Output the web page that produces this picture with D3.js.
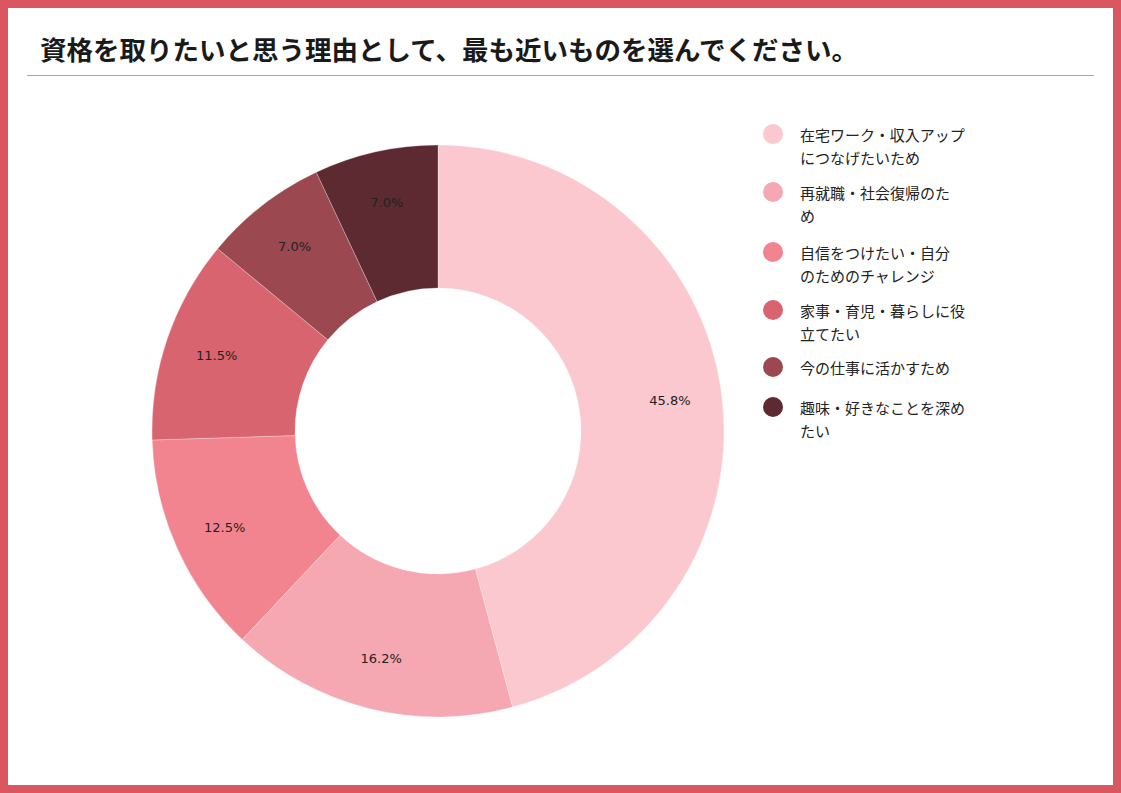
<!DOCTYPE html>
<html><head><meta charset="utf-8">
<script src="https://cdn.jsdelivr.net/npm/d3@7/dist/d3.min.js"></script>
<style>
html,body{margin:0;padding:0;background:#fff;}
svg{display:block;font-family:"Noto Sans CJK JP","Noto Sans",sans-serif;}
</style></head>
<body>
<svg id="c" width="1121" height="793"></svg>
<script>
const title = "資格を取りたいと思う理由として、最も近いものを選んでください。";
const categories = [
  ["在宅ワーク・収入アップ","につなげたいため"],
  ["再就職・社会復帰のた","め"],
  ["自信をつけたい・自分","のためのチャレンジ"],
  ["家事・育児・暮らしに役","立てたい"],
  ["今の仕事に活かすため"],
  ["趣味・好きなことを深め","たい"]
];
const values = [45.8, 16.2, 12.5, 11.5, 7.0, 7.0];
const colors = ["#FAC8CE","#F6A8B2","#F2848F","#D8646F","#9B4850","#5C2A30"];

const svg = d3.select("#c");
const W = 1121, H = 793;
// frame
svg.append("rect").attr("x",4).attr("y",4).attr("width",W-8).attr("height",H-8)
  .attr("fill","#fff").attr("stroke","#DA5761").attr("stroke-width",8);
// title
svg.append("text").attr("x",40).attr("y",60).attr("font-size",26.5).attr("font-weight","bold")
  .attr("fill","#1a1a1a").text(title);
svg.append("line").attr("x1",27).attr("x2",1094).attr("y1",75.5).attr("y2",75.5)
  .attr("stroke","#aaa").attr("stroke-width",1);

const cx = 438, cy = 431, R = 286, r0 = 143;
const g = svg.append("g").attr("transform",`translate(${cx},${cy})`);
const pie = d3.pie().sort(null).value(d=>d);
const arcs = pie(values);
const arc = d3.arc().innerRadius(r0).outerRadius(R);
g.selectAll("path").data(arcs).enter().append("path")
  .attr("d",arc).attr("fill",(d,i)=>colors[i])
  .attr("stroke","#fff").attr("stroke-opacity",0.35).attr("stroke-width",0.8);
const labelArc = d3.arc().innerRadius(234).outerRadius(234);
g.selectAll("text.lbl").data(arcs).enter().append("text").attr("class","lbl")
  .attr("transform",d=>`translate(${labelArc.centroid(d)})`)
  .attr("text-anchor","middle").attr("dominant-baseline","central")
  .attr("font-size",13).attr("fill","#222").attr("font-family","'DejaVu Sans',sans-serif")
  .text(d=>d.data.toFixed(1)+"%");

// legend
const legY = [134,192,252,310,367,407];
const lg = svg.append("g");
categories.forEach((lines,i)=>{
  lg.append("circle").attr("cx",773).attr("cy",legY[i]).attr("r",10).attr("fill",colors[i]);
  lines.forEach((t,j)=>{
    lg.append("text").attr("x",800).attr("y",legY[i]+j*23).attr("dominant-baseline","central")
      .attr("font-size",15).attr("fill","#222").text(t);
  });
});
</script>
</body></html>
